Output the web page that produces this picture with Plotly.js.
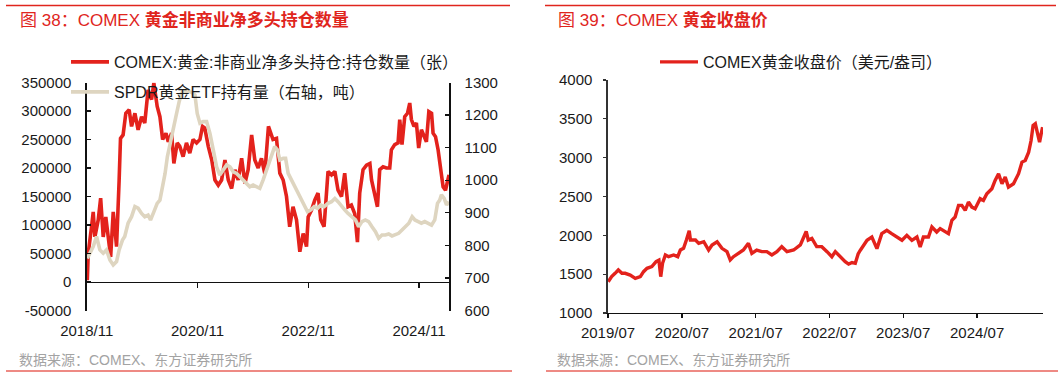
<!DOCTYPE html>
<html><head><meta charset="utf-8">
<script src="https://cdn.plot.ly/plotly-3.0.1.min.js"></script>
<style>body{margin:0;background:#fff}#chart{width:1061px;height:378px}</style>
</head><body><div id="chart"></div>
<script>
// ---- Figure 38: COMEX gold non-commercial net long (contracts) ----
const comexDates = ['2018-11-05','2018-11-11','2018-12-03','2018-12-14','2018-12-25','2019-01-16','2019-02-01','2019-02-18','2019-03-07','2019-03-23','2019-04-08','2019-04-25','2019-05-06','2019-05-17','2019-06-03','2019-06-12','2019-06-29','2019-07-17','2019-08-08','2019-08-24','2019-09-15','2019-10-06','2019-10-29','2019-11-19','2019-12-11','2020-01-03','2020-01-18','2020-02-09','2020-02-27','2020-03-16','2020-04-07','2020-04-22','2020-05-14','2020-05-29','2020-06-20','2020-07-07','2020-07-29','2020-08-20','2020-09-11','2020-10-03','2020-10-26','2020-11-17','2020-12-04','2020-12-19','2021-01-11','2021-02-03','2021-02-24','2021-03-18','2021-04-09','2021-05-01','2021-05-23','2021-06-14','2021-07-06','2021-07-27','2021-08-19','2021-09-10','2021-10-01','2021-10-24','2021-11-14','2021-12-06','2021-12-28','2022-01-19','2022-02-12','2022-03-14','2022-04-06','2022-04-28','2022-05-20','2022-06-11','2022-07-02','2022-07-24','2022-08-16','2022-09-07','2022-09-29','2022-10-21','2022-11-01','2022-11-23','2022-12-15','2023-01-05','2023-01-23','2023-02-14','2023-03-12','2023-04-04','2023-04-26','2023-05-17','2023-06-09','2023-06-30','2023-07-22','2023-08-13','2023-09-04','2023-09-22','2023-10-07','2023-10-29','2023-11-21','2023-12-13','2023-12-24','2024-01-14','2024-02-01','2024-02-16','2024-03-09','2024-03-31','2024-04-22','2024-05-03','2024-05-25','2024-06-16','2024-06-27','2024-07-12','2024-07-30','2024-08-17','2024-09-01','2024-09-12','2024-09-29','2024-10-15','2024-10-30','2024-11-17','2024-12-04','2024-12-20','2025-01-05','2025-01-23','2025-02-02','2025-02-18','2025-03-07','2025-03-25','2025-04-09','2025-04-25','2025-05-08','2025-05-18'];
const comexNetLong = [3000,50000,97000,123000,79000,109000,147000,79000,114000,73000,44000,123000,97000,62000,179000,252000,258000,296000,302000,273000,296000,267000,290000,279000,337000,320000,349000,308000,290000,250000,261000,246000,261000,208000,244000,238000,220000,244000,226000,250000,244000,250000,273000,270000,238000,214000,179000,170000,179000,214000,179000,164000,197000,179000,217000,173000,197000,258000,214000,200000,217000,190000,273000,250000,252000,191000,179000,150000,97000,132000,109000,53000,85000,62000,114000,126000,144000,156000,109000,97000,194000,188000,194000,161000,150000,191000,132000,135000,120000,70000,156000,197000,205000,208000,179000,156000,132000,197000,202000,200000,200000,232000,241000,244000,285000,241000,290000,296000,314000,285000,273000,279000,235000,267000,255000,246000,299000,296000,261000,255000,232000,197000,167000,161000,179000,188000];

// SPDR gold ETF holdings (tonnes, right axis)
const spdrDates = ['2018-11-05','2018-11-23','2018-12-14','2019-01-05','2019-01-27','2019-02-18','2019-03-12','2019-04-03','2019-04-25','2019-05-17','2019-06-03','2019-06-25','2019-07-10','2019-08-01','2019-08-24','2019-09-15','2019-10-06','2019-10-29','2019-11-19','2019-12-11','2019-12-27','2020-01-18','2020-02-09','2020-02-27','2020-03-16','2020-04-01','2020-04-16','2020-04-29','2020-05-14','2020-05-29','2020-06-16','2020-07-03','2020-07-18','2020-08-20','2020-09-22','2020-10-15','2020-10-30','2020-11-17','2020-12-08','2020-12-31','2021-01-22','2021-02-13','2021-03-07','2021-03-28','2021-04-19','2021-05-12','2021-06-03','2021-06-25','2021-07-17','2021-08-08','2021-08-29','2021-09-21','2021-10-12','2021-11-03','2021-11-26','2021-12-17','2022-01-08','2022-01-30','2022-02-10','2022-03-03','2022-03-25','2022-04-12','2022-04-28','2022-05-20','2022-06-05','2022-06-22','2022-07-14','2022-08-05','2022-08-27','2022-09-18','2022-10-10','2022-10-28','2022-11-19','2022-12-11','2023-01-02','2023-01-23','2023-02-14','2023-03-12','2023-04-04','2023-04-26','2023-05-17','2023-06-09','2023-06-30','2023-07-22','2023-08-18','2023-09-09','2023-09-30','2023-10-22','2023-11-13','2023-12-05','2023-12-27','2024-01-19','2024-02-09','2024-03-02','2024-03-24','2024-04-15','2024-05-07','2024-05-29','2024-06-20','2024-07-12','2024-08-04','2024-08-26','2024-09-17','2024-10-05','2024-10-27','2024-11-17','2024-12-09','2025-01-01','2025-01-23','2025-02-13','2025-03-03','2025-03-18','2025-03-29','2025-04-16','2025-05-02','2025-05-18'];
const spdrHoldings = [760,776,796,827,786,776,786,755,740,750,786,816,827,868,888,919,914,898,888,893,878,903,929,939,980,1021,1072,1103,1134,1164,1205,1241,1267,1275,1270,1262,1205,1175,1180,1180,1144,1093,1041,1016,1031,1047,1041,1026,1021,1011,1001,990,980,985,980,975,1001,1031,1052,1078,1103,1093,1062,1067,1067,1021,1001,980,960,939,919,903,909,919,914,924,919,929,934,944,934,919,909,898,888,878,857,873,878,873,857,842,822,832,832,835,829,832,837,847,857,868,888,878,873,868,873,868,862,878,929,939,955,944,924,934];

// ---- Figure 39: COMEX gold close (USD/oz) ----
const priceDates = ['2019-07-02','2019-07-19','2019-08-05','2019-08-21','2019-09-08','2019-09-24','2019-10-19','2019-11-13','2019-12-08','2019-12-24','2020-01-10','2020-02-03','2020-02-24','2020-03-09','2020-03-18','2020-03-27','2020-04-10','2020-04-26','2020-05-21','2020-06-10','2020-06-23','2020-07-09','2020-07-23','2020-08-06','2020-08-12','2020-09-06','2020-09-22','2020-10-17','2020-11-10','2020-11-27','2020-12-22','2021-01-15','2021-02-09','2021-02-25','2021-03-13','2021-04-07','2021-05-01','2021-05-26','2021-06-12','2021-07-06','2021-07-31','2021-08-25','2021-09-19','2021-10-14','2021-11-07','2021-12-03','2022-01-05','2022-02-07','2022-03-08','2022-03-18','2022-04-05','2022-04-29','2022-05-24','2022-06-19','2022-07-13','2022-07-30','2022-08-24','2022-09-17','2022-10-04','2022-10-21','2022-11-06','2022-11-20','2022-12-01','2023-01-03','2023-01-27','2023-02-21','2023-03-17','2023-04-11','2023-05-05','2023-05-30','2023-06-25','2023-07-19','2023-08-13','2023-09-07','2023-09-23','2023-10-09','2023-11-03','2023-11-20','2023-12-14','2023-12-31','2024-01-25','2024-02-10','2024-02-27','2024-03-14','2024-03-31','2024-04-16','2024-05-03','2024-05-19','2024-06-05','2024-06-21','2024-07-16','2024-08-01','2024-08-18','2024-09-12','2024-09-28','2024-10-15','2024-11-01','2024-11-17','2024-12-03','2024-12-28','2025-01-22','2025-02-08','2025-02-24','2025-03-13','2025-03-25','2025-04-04','2025-04-15','2025-04-26','2025-05-06','2025-05-14','2025-05-21'];
const priceClose = [1403,1468,1511,1554,1511,1511,1489,1446,1468,1532,1575,1597,1661,1680,1468,1640,1747,1725,1747,1725,1811,1833,1940,2060,1940,1940,1897,1918,1811,1876,1918,1833,1790,1682,1725,1768,1811,1897,1768,1811,1790,1790,1747,1790,1854,1790,1811,1876,2050,1940,1961,1854,1854,1790,1725,1790,1720,1661,1630,1650,1640,1760,1808,1936,1979,1829,2021,2064,2021,1979,1936,2000,1936,1979,1850,1979,1979,2107,2043,2086,2043,2021,2193,2236,2386,2386,2322,2429,2364,2343,2472,2450,2536,2600,2707,2793,2664,2750,2621,2664,2793,2943,2964,3071,3221,3414,3436,3329,3200,3307,3393];

// tick labels
const leftTickVals = [-50000,0,50000,100000,150000,200000,250000,300000,350000];
const leftTickText = ['-50000','0','50000','100000','150000','200000','250000','300000','350000'];
const rightTickVals = [600,700,800,900,1000,1100,1200,1300];
const priceTickVals = [1000,1500,2000,2500,3000,3500,4000];

const leftRange = ['2018-11-01','2025-05-20'];
const rightRange = ['2019-07-01','2025-05-23'];
const titles = ['图 38：COMEX <b>黄金非商业净多头持仓数量</b>', '图 39：COMEX <b>黄金收盘价</b>'];
const sourceText = '数据来源：COMEX、东方证券研究所';

const W = 1061, H = 378;
const fx = x => x / W, fy = y => 1 - y / H;
const FONT = 'Liberation Sans, Arial, Noto Sans CJK SC, sans-serif';
const RED = '#e3221c', BEIGE = '#ded5c0', AX = '#111';

const traces = [
  {x: spdrDates, y: spdrHoldings, type:'scatter', mode:'lines', name:'SPDR黄金ETF持有量（右轴，吨）',
   line:{color:BEIGE, width:3.6}, xaxis:'x', yaxis:'y2', legend:'legend2'},
  {x: comexDates, y: comexNetLong, type:'scatter', mode:'lines', name:'COMEX:黄金:非商业净多头持仓:持仓数量（张）',
   line:{color:RED, width:3.6}, xaxis:'x', yaxis:'y', legend:'legend'},
  {x: [comexDates[0]], y: [null], type:'scatter', mode:'lines', xaxis:'x2', yaxis:'y', showlegend:false, hoverinfo:'skip'},
  {x: priceDates, y: priceClose, type:'scatter', mode:'lines', name:'COMEX黄金收盘价（美元/盎司）',
   line:{color:RED, width:3.4}, xaxis:'x3', yaxis:'y3', legend:'legend3'}
];

const tickFont = {family:FONT, size:15, color:'#1a1a1a'};
const leg = (x, y) => ({x:fx(x), y:fy(y), xanchor:'left', yanchor:'middle', bgcolor:'rgba(0,0,0,0)',
  font:{family:FONT, size:16, color:'#1a1a1a'}, itemwidth:38, borderwidth:0, tracegroupgap:0});

const layout = {
  width: W, height: H, margin:{l:0,r:0,t:0,b:0},
  paper_bgcolor:'#fff', plot_bgcolor:'rgba(0,0,0,0)', font:{family:FONT},
  showlegend:true,
  legend: leg(66, 62), legend2: leg(66, 92), legend3: leg(655, 62),
  xaxis: {type:'date', domain:[fx(86.7), fx(449.3)], anchor:'y', range:leftRange,
    tick0:'2018-11-01', dtick:'M24', tickformat:'%Y/%m', showline:false, ticks:'', showgrid:false, zeroline:false,
    tickfont:tickFont, ticklabelstandoff:9},
  xaxis2: {type:'date', overlaying:'x', domain:[fx(86.7), fx(449.3)], anchor:'free', position:fy(281.7), range:leftRange,
    tick0:'2018-11-01', dtick:'M24', showticklabels:false, showline:true, linecolor:AX, linewidth:1.3,
    ticks:'outside', ticklen:5, tickcolor:AX, tickwidth:1.3, showgrid:false, zeroline:false},
  yaxis: {domain:[fy(310.5), fy(82.5)], anchor:'x', range:[-50000, 350000], tickmode:'array',
    tickvals:leftTickVals, ticktext:leftTickText,
    showline:true, linecolor:AX, linewidth:1.3, ticks:'inside', ticklen:4, tickcolor:AX, tickwidth:1.3,
    showgrid:false, zeroline:false, tickfont:tickFont, ticklabelstandoff:11},
  yaxis2: {overlaying:'y', side:'right', anchor:'x', range:[600, 1300], tickmode:'array', tickvals:rightTickVals,
    showline:true, linecolor:AX, linewidth:1.3, ticks:'inside', ticklen:4, tickcolor:AX, tickwidth:1.3,
    showgrid:false, zeroline:false, tickfont:tickFont, ticklabelstandoff:11},
  xaxis3: {type:'date', domain:[fx(608), fx(1043)], anchor:'y3', range:rightRange,
    tick0:'2019-07-01', dtick:'M12', tickformat:'%Y/%m', showline:true, linecolor:AX, linewidth:1.3,
    ticks:'outside', ticklen:4, tickcolor:AX, tickwidth:1.3, showgrid:false, zeroline:false, tickfont:tickFont, ticklabelstandoff:2},
  yaxis3: {domain:[fy(313), fy(80)], anchor:'x3', range:[1000, 4000], tickmode:'array', tickvals:priceTickVals,
    showline:true, linecolor:'#333', linewidth:1.6, ticks:'outside', ticklen:3, tickcolor:'#333', tickwidth:1.3,
    showgrid:false, zeroline:false, tickfont:tickFont, ticklabelstandoff:8},
  annotations: [
    {xref:'paper', yref:'paper', x:fx(18), y:fy(19.5), xanchor:'left', yanchor:'middle', showarrow:false,
     text:titles[0], font:{family:FONT, size:17, color:'#e0251d'}},
    {xref:'paper', yref:'paper', x:fx(556), y:fy(19.5), xanchor:'left', yanchor:'middle', showarrow:false,
     text:titles[1], font:{family:FONT, size:17, color:'#e0251d'}},
    {xref:'paper', yref:'paper', x:fx(17), y:fy(360), xanchor:'left', yanchor:'middle', showarrow:false,
     text:sourceText, font:{family:FONT, size:14, color:'#a3a3a3'}},
    {xref:'paper', yref:'paper', x:fx(555), y:fy(360), xanchor:'left', yanchor:'middle', showarrow:false,
     text:sourceText, font:{family:FONT, size:14, color:'#a3a3a3'}}
  ],
  shapes: [
    {type:'line', xref:'paper', yref:'paper', x0:fx(6), x1:fx(510), y0:fy(5.5), y1:fy(5.5), line:{color:'#e0251d', width:1.3}},
    {type:'line', xref:'paper', yref:'paper', x0:fx(545), x1:fx(1056), y0:fy(5.5), y1:fy(5.5), line:{color:'#e0251d', width:1.3}},
    {type:'line', xref:'paper', yref:'paper', x0:fx(6), x1:fx(512), y0:fy(371), y1:fy(371), line:{color:'#ee8a84', width:2}},
    {type:'line', xref:'paper', yref:'paper', x0:fx(546), x1:fx(1058), y0:fy(371), y1:fy(371), line:{color:'#ee8a84', width:2}}
  ]
};

Plotly.newPlot('chart', traces, layout, {displayModeBar:false, staticPlot:true});
</script>
</body></html>
